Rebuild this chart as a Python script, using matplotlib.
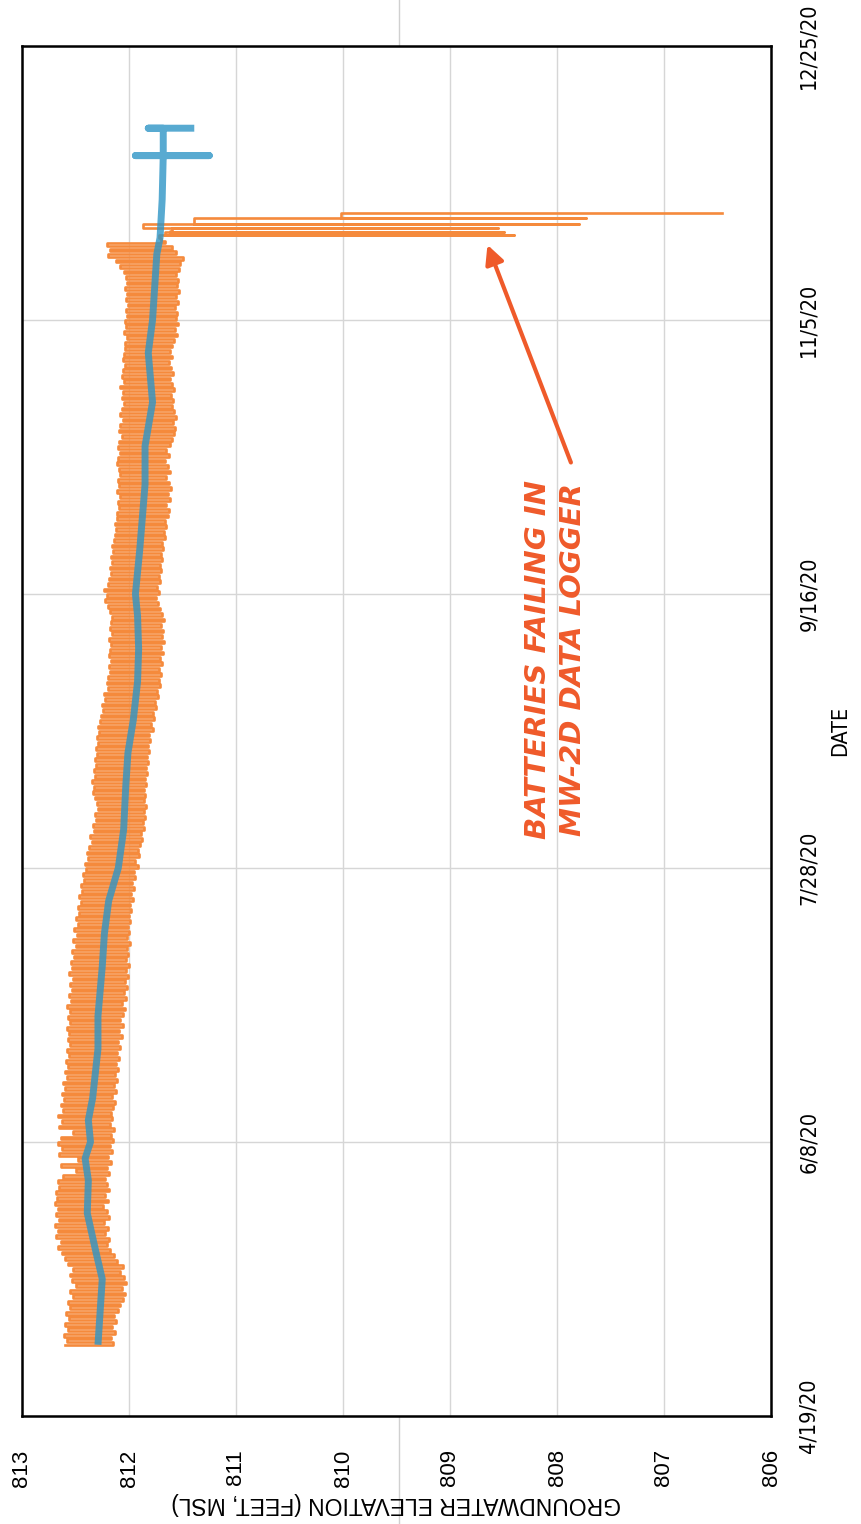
import matplotlib
matplotlib.use("Agg")
import matplotlib.pyplot as plt
import matplotlib.dates as mdates
from matplotlib.lines import Line2D
import numpy as np
import pandas as pd

# axis ticks: elevation (ft MSL) and dates
elev_ticks = [813, 812, 811, 810, 809, 808, 807, 806]
date_ticks = ["2020-04-19", "2020-06-08", "2020-07-28", "2020-09-16", "2020-11-05", "2020-12-25"]
date_labels = ["4/19/20", "6/8/20", "7/28/20", "9/16/20", "11/5/20", "12/25/20"]

# blue well: smoothed water level
well_dates = ["2020-05-02", "2020-05-08", "2020-05-14", "2020-05-19", "2020-05-26", "2020-06-01",
              "2020-06-05", "2020-06-08", "2020-06-12", "2020-06-16", "2020-06-25", "2020-07-01",
              "2020-07-10", "2020-07-16", "2020-07-22", "2020-07-28", "2020-08-04", "2020-08-12",
              "2020-08-18", "2020-08-24", "2020-08-31", "2020-09-06", "2020-09-12", "2020-09-16",
              "2020-09-24", "2020-10-06", "2020-10-13", "2020-10-21", "2020-10-30", "2020-11-05",
              "2020-11-11", "2020-11-17", "2020-11-20", "2020-11-27",
              "2020-12-05", "2020-12-05", "2020-12-05", "2020-12-05",
              "2020-12-10", "2020-12-10", "2020-12-10"]
well_level = [812.29, 812.27, 812.25, 812.31, 812.39, 812.38,
              812.41, 812.36, 812.38, 812.34, 812.29, 812.29,
              812.25, 812.23, 812.19, 812.10, 812.05, 812.03,
              812.01, 811.96, 811.92, 811.91, 811.92, 811.94,
              811.90, 811.85, 811.85, 811.78, 811.82, 811.78,
              811.76, 811.74, 811.71, 811.69,
              811.68, 811.94, 811.25, 811.68,
              811.68, 811.82, 811.39]

# MW-2D logger, daily high / low readings (5/2/20 - 11/19/20)
may_hi = [812.60, 812.58, 812.61, 812.57, 812.60, 812.56, 812.59, 812.55, 812.57, 812.52,
          812.55, 812.50, 812.53, 812.55, 812.52, 812.57, 812.60, 812.63, 812.66, 812.64,
          812.68, 812.66, 812.69, 812.65, 812.68, 812.66, 812.69, 812.67, 812.68, 812.65]
may_lo = [812.15, 812.17, 812.13, 812.16, 812.12, 812.14, 812.10, 812.08, 812.06, 812.04,
          812.07, 812.03, 812.05, 812.08, 812.06, 812.11, 812.14, 812.18, 812.21, 812.19,
          812.22, 812.20, 812.23, 812.19, 812.21, 812.24, 812.20, 812.22, 812.19, 812.21]
jun_hi = [812.66, 812.62, 812.50, 812.64, 812.48, 812.65, 812.63, 812.66, 812.64, 812.52,
          812.65, 812.63, 812.66, 812.62, 812.64, 812.61, 812.63, 812.60, 812.62, 812.58,
          812.60, 812.57, 812.59, 812.56, 812.58, 812.55, 812.57, 812.56, 812.58, 812.55]
jun_lo = [812.22, 812.19, 812.21, 812.17, 812.20, 812.16, 812.18, 812.15, 812.17, 812.14,
          812.18, 812.16, 812.17, 812.15, 812.13, 812.16, 812.12, 812.14, 812.11, 812.13,
          812.10, 812.12, 812.09, 812.11, 812.08, 812.10, 812.07, 812.09, 812.06, 812.08]
jul_hi = [812.57, 812.55, 812.58, 812.54, 812.56, 812.53, 812.55, 812.52, 812.56, 812.53,
          812.54, 812.51, 812.53, 812.50, 812.52, 812.49, 812.51, 812.48, 812.50, 812.47,
          812.48, 812.45, 812.47, 812.44, 812.45, 812.42, 812.43, 812.40, 812.41, 812.38, 812.39]
jul_lo = [812.06, 812.04, 812.07, 812.03, 812.05, 812.02, 812.04, 812.01, 812.03, 812.00,
          812.03, 812.01, 812.02, 811.99, 812.02, 812.00, 812.01, 811.99, 812.00, 811.98,
          811.99, 811.96, 811.98, 811.95, 811.97, 811.94, 811.95, 811.92, 811.94, 811.91, 811.92]
aug_hi = [812.37, 812.35, 812.36, 812.33, 812.34, 812.31, 812.32, 812.29, 812.30, 812.32,
          812.34, 812.33, 812.35, 812.32, 812.33, 812.31, 812.32, 812.30, 812.31, 812.29,
          812.30, 812.28, 812.29, 812.27, 812.26, 812.24, 812.25, 812.22, 812.23, 812.20, 812.21]
aug_lo = [811.90, 811.88, 811.89, 811.86, 811.87, 811.85, 811.86, 811.84, 811.86, 811.85,
          811.86, 811.84, 811.85, 811.83, 811.84, 811.82, 811.83, 811.81, 811.82, 811.80,
          811.81, 811.78, 811.79, 811.77, 811.78, 811.75, 811.76, 811.73, 811.74, 811.71, 811.72]
sep_hi = [812.20, 812.18, 812.19, 812.17, 812.19, 812.18, 812.17, 812.19, 812.16, 812.18,
          812.17, 812.16, 812.18, 812.20, 812.22, 812.21, 812.23, 812.20, 812.19, 812.17,
          812.18, 812.16, 812.17, 812.15, 812.16, 812.14, 812.13, 812.12, 812.13, 812.11]
sep_lo = [811.70, 811.72, 811.69, 811.71, 811.68, 811.70, 811.67, 811.69, 811.68, 811.70,
          811.67, 811.69, 811.71, 811.73, 811.75, 811.72, 811.74, 811.71, 811.72, 811.70,
          811.71, 811.69, 811.70, 811.68, 811.69, 811.66, 811.67, 811.65, 811.66, 811.64]
oct_hi = [812.11, 812.09, 812.10, 812.08, 812.11, 812.09, 812.10, 812.08, 812.09, 812.11,
          812.10, 812.08, 812.10, 812.09, 812.07, 812.09, 812.08, 812.06, 812.08, 812.07,
          812.05, 812.07, 812.06, 812.08, 812.05, 812.07, 812.06, 812.04, 812.06, 812.05, 812.04]
oct_lo = [811.63, 811.65, 811.62, 811.64, 811.61, 811.63, 811.65, 811.62, 811.64, 811.66,
          811.63, 811.65, 811.62, 811.60, 811.58, 811.57, 811.59, 811.56, 811.58, 811.60,
          811.59, 811.61, 811.58, 811.60, 811.62, 811.59, 811.61, 811.63, 811.60, 811.62, 811.60]
nov_hi = [812.04, 812.02, 812.05, 812.03, 812.04, 812.02, 812.03, 812.01, 812.03, 812.02,
          812.04, 812.02, 812.03, 812.05, 812.08, 812.12, 812.20, 812.18, 812.21]
nov_lo = [811.58, 811.55, 811.57, 811.54, 811.56, 811.55, 811.57, 811.54, 811.56, 811.53,
          811.55, 811.54, 811.56, 811.53, 811.52, 811.50, 811.56, 811.60, 811.66]

# readings once the logger batteries started failing
spike_times = ["2020-11-20 00:00", "2020-11-20 11:00", "2020-11-20 12:00", "2020-11-20 13:00",
               "2020-11-21 02:00", "2020-11-21 03:00", "2020-11-21 04:00",
               "2020-11-21 19:00", "2020-11-21 20:00", "2020-11-21 21:00",
               "2020-11-22 11:00", "2020-11-22 12:00", "2020-11-22 13:00",
               "2020-11-23 13:00", "2020-11-23 14:00", "2020-11-23 15:00",
               "2020-11-24 11:00", "2020-11-24 12:00"]
spike_level = [811.70, 811.72, 808.40, 811.68,
               811.66, 808.50, 811.62,
               811.60, 808.55, 811.80,
               811.87, 807.79, 811.70,
               811.39, 807.73, 810.10,
               810.02, 806.46]

BLUE = "#2e95c6"
ORANGE = "#f58a3c"
NOTE = "#ef5a2a"
NARROW = ["Liberation Sans Narrow", "DejaVu Sans"]
SANS = ["Liberation Sans", "DejaVu Sans"]

hi = np.concatenate([may_hi, jun_hi, jul_hi, aug_hi, sep_hi, oct_hi, nov_hi])
lo = np.concatenate([may_lo, jun_lo, jul_lo, aug_lo, sep_lo, oct_lo, nov_lo])
logger_level = np.column_stack((hi, lo)).ravel()
logger_time = pd.date_range("2020-05-02", periods=len(logger_level), freq="12h")
logger_time = logger_time.append(pd.to_datetime(spike_times))
logger_level = np.concatenate([logger_level, spike_level])

fig = plt.figure(figsize=(8.61, 15.24), dpi=100)
ax = fig.add_axes([22 / 861, 108 / 1524, 749 / 861, 1370 / 1524])

# chart is laid out sideways: elevation across, date running up the page.
# steps-post makes each logger jump a flat stroke at the reading time
ax.plot(logger_level, logger_time, color=ORANGE, lw=1.9, drawstyle="steps-post", zorder=2)
ax.plot(well_level, pd.to_datetime(well_dates), color=BLUE, lw=5, alpha=0.8,
        solid_capstyle="butt", zorder=3)

ax.set_xlim(813, 806)
ax.set_ylim(pd.Timestamp(date_ticks[0]), pd.Timestamp(date_ticks[-1]))
ax.set_xticks(elev_ticks)
ax.set_xticklabels([str(v) for v in elev_ticks], rotation=90, fontsize=16, family=SANS)
ax.set_yticks(pd.to_datetime(date_ticks))
ax.set_yticklabels(date_labels, rotation=90, va="center", fontsize=15.5, family=NARROW,
                   fontstretch="condensed")
ax.yaxis.tick_right()
ax.yaxis.set_label_position("right")
ax.tick_params(length=0)
ax.tick_params(axis="x", pad=24)
ax.tick_params(axis="y", pad=20)

ax.grid(True, color="#d6d6d6", lw=1.0)
ax.set_axisbelow(True)
for s in ax.spines.values():
    s.set_linewidth(1.8)
    s.set_color("black")

ax.set_xlabel("GROUNDWATER ELEVATION (FEET, MSL)", rotation=180, fontsize=16.5,
              family=SANS, labelpad=4)
ax.set_ylabel("DATE", rotation=90, fontsize=15.5, family=NARROW, fontstretch="condensed",
              labelpad=8)

ax.text(0.712, 0.552, "BATTERIES FAILING IN\nMW-2D DATA LOGGER", transform=ax.transAxes,
        rotation=90, ha="center", va="center", multialignment="center",
        fontsize=21, fontweight="bold", fontstyle="italic", color=NOTE,
        family=NARROW, linespacing=1.3)
ax.annotate("", xy=(808.65, mdates.date2num(pd.Timestamp("2020-11-18 17:00"))),
            xytext=(807.87, mdates.date2num(pd.Timestamp("2020-10-10"))),
            arrowprops=dict(arrowstyle="-|>", color=NOTE, lw=3, mutation_scale=28,
                            shrinkA=0, shrinkB=0))

# faint fold line across the page
fig.add_artist(Line2D([399 / 861, 399 / 861], [0, 1], transform=fig.transFigure,
                      color="#d0d0d0", lw=1, zorder=0))

fig.savefig("out.png", dpi=100, facecolor="white")
